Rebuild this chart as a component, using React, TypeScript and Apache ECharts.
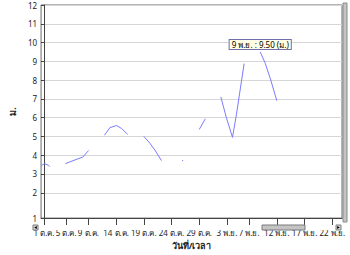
import React, { useEffect, useRef } from "react";
import * as echarts from "echarts";

// Day offsets from 1 Oct (0 = 1 ต.ค.), gaps marked with null levels
const days = [
  -0.5, 0.15, 0.85, 1.05, 2.4,
  3.85, 5.6, 7.0, 8.05, 9.5,
  10.9, 11.9, 13.1, 14.0, 15.1, 16.5,
  18.0, 19.1, 20.1, 21.2, 23.0,
  24.9, 25.1, 26.5,
  28.0, 29.1, 30.5,
  31.9, 32.9, 34.0, 34.7, 36.1, 37.5,
  39.0, 39.9, 40.8, 42.0,
];
const levels: (number | null)[] = [
  3.45, 3.55, 3.45, 3.4, null,
  3.55, 3.75, 3.9, 4.25, null,
  5.06, 5.47, 5.58, 5.42, 5.11, null,
  5.0, 4.64, 4.23, 3.71, null,
  3.71, 3.71, null,
  5.37, 5.94, null,
  7.1, 6.0, 4.95, 6.15, 8.88, null,
  9.5, 8.9, 8.1, 6.9,
];

const tickDays = [0, 4, 8, 13, 18, 23, 28, 33, 37, 42, 47, 52];
const tickLabels = [
  "1 ต.ค.", "5 ต.ค.", "9 ต.ค.", "14 ต.ค.", "19 ต.ค.", "24 ต.ค.",
  "29 ต.ค.", "3 พ.ย.", "7 พ.ย.", "12 พ.ย.", "17 พ.ย.", "22 พ.ย.",
];
const yTicks = [0.65, 2, 3, 4, 5, 6, 7, 8, 9, 10, 11, 12];

const tipDay = 39;
const tipLevel = 9.5;
const tipDate = "9 พ.ย.";

const FONT = 'Tahoma, "Noto Sans", "DejaVu Sans", sans-serif';

export default function App() {
  const ref = useRef<HTMLDivElement>(null);
  useEffect(() => {
    if (!ref.current) return;
    const chart = echarts.init(ref.current, undefined, { renderer: "svg" });
    const data = days.map((d, i) => [d, levels[i] == null ? "-" : levels[i]]);
    chart.setOption({
      animation: false,
      backgroundColor: "#ffffff",
      grid: {
        left: 32,
        top: 5,
        right: 8,
        bottom: 31,
        show: true,
        borderColor: "#6a6a6a",
        borderWidth: 1,
        backgroundColor: "transparent",
      },
      xAxis: {
        type: "value",
        min: -0.525,
        max: 53.75,
        name: "วันที่/เวลา",
        nameLocation: "middle",
        nameGap: 18,
        nameTextStyle: { fontFamily: FONT, fontSize: 9, fontWeight: "bold", color: "#222" },
        axisLine: { show: true, lineStyle: { color: "#444", width: 1 } },
        axisTick: { show: true, length: 8, customValues: tickDays, lineStyle: { color: "#444" } },
        axisLabel: {
          customValues: tickDays,
          margin: 10,
          fontFamily: FONT,
          fontSize: 8,
          color: "#222",
          formatter: (v: number) => {
            const i = tickDays.findIndex((t) => Math.abs(t - v) < 0.01);
            return i >= 0 ? tickLabels[i] : "";
          },
        },
        splitLine: { show: false },
      },
      yAxis: {
        type: "value",
        min: 0.65,
        max: 12,
        name: "ม.",
        nameLocation: "middle",
        nameGap: 22,
        nameTextStyle: { fontFamily: FONT, fontSize: 9, fontWeight: "bold", color: "#222" },
        axisLine: { show: true, lineStyle: { color: "#444", width: 1 } },
        axisTick: { show: true, length: 3, customValues: yTicks, lineStyle: { color: "#444" } },
        axisLabel: {
          customValues: yTicks,
          margin: 4,
          fontFamily: FONT,
          fontSize: 8,
          color: "#222",
          formatter: (v: number) => String(Math.round(v)),
        },
        splitLine: { show: true, lineStyle: { color: "#d6d6d6", width: 1 } },
      },
      series: [
        {
          type: "line",
          data,
          showSymbol: false,
          connectNulls: false,
          lineStyle: { color: "#7b7bff", width: 1 },
          itemStyle: { color: "#7b7bff" },
          markPoint: {
            symbol: "circle",
            symbolSize: 2,
            silent: true,
            itemStyle: { color: "rgba(0,0,0,0)" },
            label: {
              show: true,
              position: "top",
              distance: 2,
              formatter: `${tipDate} : ${tipLevel.toFixed(2)} (ม.)`,
              fontFamily: FONT,
              fontSize: 8,
              color: "#000",
              backgroundColor: "#ffffe6",
              borderColor: "#6f6fb0",
              borderWidth: 1,
              padding: [1, 2, 0, 2],
            },
            data: [{ coord: [tipDay, tipLevel], value: tipLevel }],
          },
        },
      ],
      graphic: [
        { type: "rect", shape: { x: 32.5, y: 225, width: 309, height: 5 }, style: { fill: "#ffffff" }, z: 100 },
        { type: "rect", shape: { x: 33, y: 225, width: 5, height: 5 }, style: { fill: "#d8d8d8", stroke: "#7a7a7a", lineWidth: 1 }, z: 101 },
        { type: "polygon", shape: { points: [[34.2, 227.5], [36.8, 226], [36.8, 229]] }, style: { fill: "#000" }, z: 102 },
        { type: "rect", shape: { x: 336, y: 225, width: 5, height: 5 }, style: { fill: "#d8d8d8", stroke: "#7a7a7a", lineWidth: 1 }, z: 101 },
        { type: "polygon", shape: { points: [[339.8, 227.5], [337.2, 226], [337.2, 229]] }, style: { fill: "#000" }, z: 102 },
        { type: "rect", shape: { x: 262, y: 225, width: 43, height: 5 }, style: { fill: "#c4c4c4", stroke: "#7a7a7a", lineWidth: 1 }, z: 101 },
        { type: "rect", shape: { x: 343, y: 3, width: 4, height: 219 }, style: { fill: "#c4c4c4", stroke: "#8a8a8a", lineWidth: 1 }, z: 101 },
      ],
    });
    return () => chart.dispose();
  }, []);
  return (
    <div
      ref={ref}
      style={{ position: "fixed", left: 0, top: 0, width: 350, height: 255, background: "#fff" }}
    />
  );
}
